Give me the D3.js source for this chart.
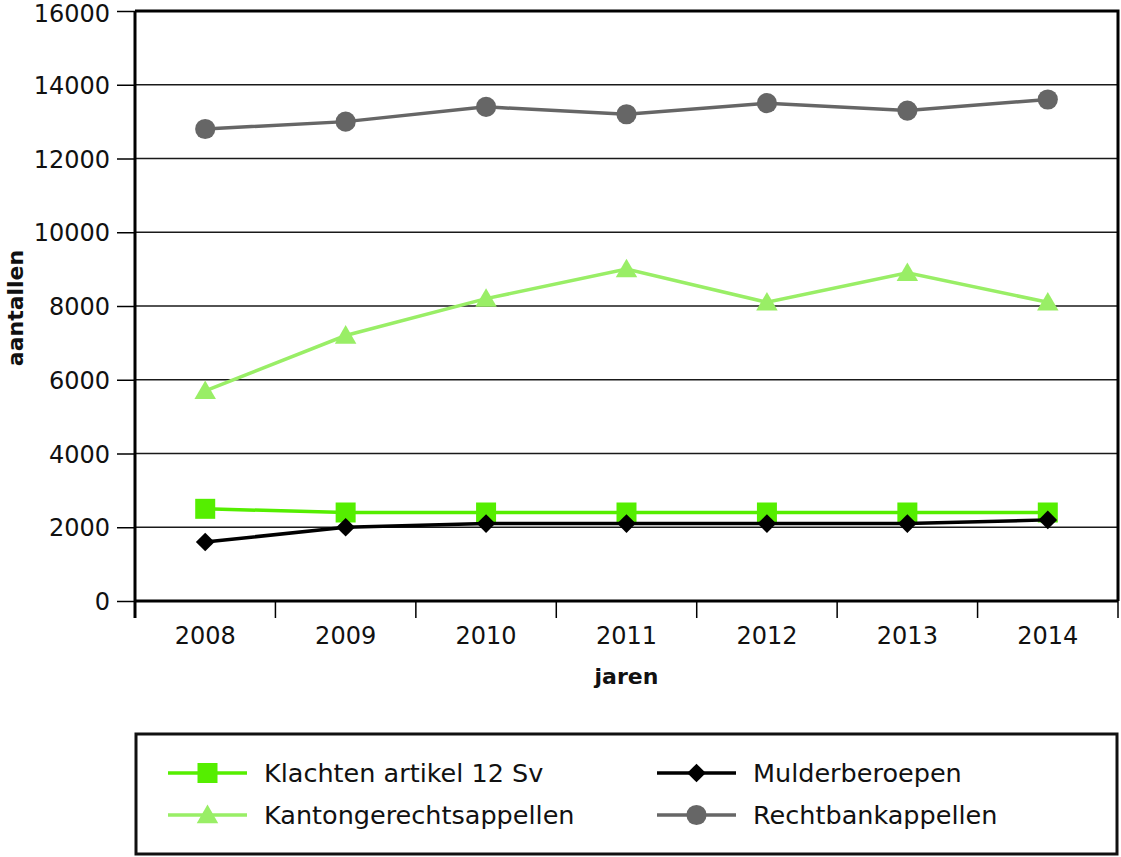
<!DOCTYPE html>
<html>
<head>
<meta charset="utf-8">
<script src="https://cdn.jsdelivr.net/npm/d3@7"></script>
<style>
  body { margin: 0; background: #fff; }
  text { font-family: "DejaVu Sans", sans-serif; fill: #111; }
</style>
</head>
<body>
<svg id="chart" width="1121" height="857"></svg>
<script>
// data
const years = ["2008", "2009", "2010", "2011", "2012", "2013", "2014"];
const klachten = [2500, 2400, 2400, 2400, 2400, 2400, 2400];
const kanton = [5700, 7200, 8200, 9000, 8100, 8900, 8100];
const mulder = [1600, 2000, 2100, 2100, 2100, 2100, 2200];
const rechtbank = [12800, 13000, 13400, 13200, 13500, 13300, 13600];
const yTicks = [0, 2000, 4000, 6000, 8000, 10000, 12000, 14000, 16000];

const series = [
  { name: "Klachten artikel 12 Sv", values: klachten, color: "#55ee00", shape: "square", col: 0, row: 0 },
  { name: "Kantongerechtsappellen", values: kanton, color: "#99ee66", shape: "triangle", col: 0, row: 1 },
  { name: "Mulderberoepen", values: mulder, color: "#000000", shape: "diamond", col: 1, row: 0 },
  { name: "Rechtbankappellen", values: rechtbank, color: "#666666", shape: "circle", col: 1, row: 1 }
];

const plotL = 135, plotR = 1118, plotT = 11, plotB = 601;
const svg = d3.select("#chart");

const x = d3.scaleBand().domain(years).range([plotL, plotR]).padding(0);
const y = d3.scaleLinear().domain([0, 16000]).range([plotB, plotT]);

// gridlines
svg.append("g")
  .selectAll("line")
  .data(yTicks.slice(1, -1))
  .join("line")
  .attr("x1", plotL).attr("x2", plotR)
  .attr("y1", d => y(d)).attr("y2", d => y(d))
  .attr("stroke", "#1a1a1a").attr("stroke-width", 1.5);

// frame top/right
svg.append("path")
  .attr("d", `M${plotL},${plotT}H${plotR}V${plotB}`)
  .attr("fill", "none").attr("stroke", "#000").attr("stroke-width", 3);

// y axis
const yAxis = svg.append("g")
  .attr("transform", `translate(${plotL},0)`)
  .call(d3.axisLeft(y).tickValues(yTicks).tickSize(18).tickPadding(7).tickFormat(d3.format("d")));
yAxis.select(".domain").attr("stroke-width", 3).attr("d", `M0,${plotT}V${plotB + 17}`);
yAxis.selectAll(".tick line").attr("stroke-width", 1.5);
yAxis.selectAll("text").style("font-size", "24px").attr("fill", "#111")
  .attr("dy", d => d === 16000 ? "0.45em" : "0.36em");

// x axis
const xAxis = svg.append("g")
  .attr("transform", `translate(0,${plotB})`)
  .call(d3.axisBottom(x).tickSize(0).tickPadding(26));
xAxis.select(".domain").attr("stroke-width", 3).attr("d", `M${plotL},0H${plotR}`);
xAxis.selectAll("text").style("font-size", "24px").attr("fill", "#111");
xAxis.append("g")
  .selectAll("line")
  .data(years)
  .join("line")
  .attr("x1", d => x(d) + x.bandwidth())
  .attr("x2", d => x(d) + x.bandwidth())
  .attr("y1", 0).attr("y2", 17)
  .attr("stroke", "#000").attr("stroke-width", 1.5);

// axis titles
svg.append("text")
  .attr("x", (plotL + plotR) / 2).attr("y", 684)
  .attr("text-anchor", "middle")
  .style("font-size", "22px").style("font-weight", "bold")
  .text("jaren");
svg.append("text")
  .attr("transform", "translate(23,308) rotate(-90)")
  .attr("text-anchor", "middle")
  .style("font-size", "22px").style("font-weight", "bold")
  .text("aantallen");

const symbolFor = {
  square: d3.symbol(d3.symbolSquare, 400),
  triangle: d3.symbol(d3.symbolTriangle, 200),
  diamond: d3.symbol(d3.symbolSquare, 175),
  circle: d3.symbol(d3.symbolCircle, 320)
};
const markerTransform = (shape, px, py) =>
  shape === "diamond" ? `translate(${px},${py}) rotate(45)`
  : shape === "triangle" ? `translate(${px},${py + 2})`
  : `translate(${px},${py})`;

const cx = d => x(d) + x.bandwidth() / 2;
const line = d3.line().x(d => cx(d.year)).y(d => y(d.v));

// draw in back-to-front order
const order = [series[3], series[1], series[0], series[2]];
order.forEach(s => {
  const pts = years.map((yr, i) => ({ year: yr, v: s.values[i] }));
  const g = svg.append("g");
  g.append("path")
    .datum(pts)
    .attr("d", line)
    .attr("fill", "none")
    .attr("stroke", s.color)
    .attr("stroke-width", 3.5);
  g.selectAll("path.m")
    .data(pts)
    .join("path")
    .attr("class", "m")
    .attr("d", symbolFor[s.shape]())
    .attr("transform", d => markerTransform(s.shape, cx(d.year), y(d.v)))
    .attr("fill", s.color);
});

// legend
svg.append("rect")
  .attr("x", 136).attr("y", 734).attr("width", 981).attr("height", 120)
  .attr("fill", "none").attr("stroke", "#111").attr("stroke-width", 3);

const legCols = [168, 657];
const legRows = [773, 815];
const leg = svg.append("g")
  .selectAll("g")
  .data(series)
  .join("g")
  .attr("transform", d => `translate(${legCols[d.col]},${legRows[d.row]})`);
leg.append("line")
  .attr("x1", 0).attr("x2", 79)
  .attr("stroke", d => d.color).attr("stroke-width", 3.5);
leg.append("path")
  .attr("d", d => symbolFor[d.shape]())
  .attr("transform", d => markerTransform(d.shape, 39.5, 0))
  .attr("fill", d => d.color);
leg.append("text")
  .attr("x", 96).attr("dy", "0.36em")
  .style("font-size", "25.5px")
  .text(d => d.name);
</script>
</body>
</html>
